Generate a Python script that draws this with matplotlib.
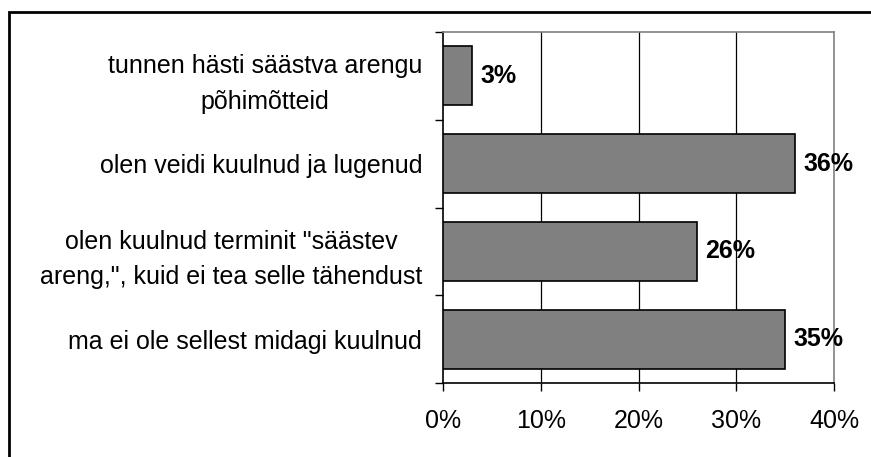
import matplotlib
matplotlib.use("Agg")
import matplotlib.pyplot as plt
from matplotlib.patches import Rectangle
from matplotlib.ticker import FixedLocator

plt.rcParams['font.family'] = ['Liberation Sans', 'DejaVu Sans']

categories = [
    "tunnen hästi säästva arengu\npõhimõtteid",
    "olen veidi kuulnud ja lugenud",
    "olen kuulnud terminit \"säästev\nareng,\", kuid ei tea selle tähendust",
    "ma ei ole sellest midagi kuulnud",
]
values = [3, 36, 26, 35]
x_ticks = [0, 10, 20, 30, 40]
x_tick_labels = ["0%", "10%", "20%", "30%", "40%"]

W, H = 871, 457
fig = plt.figure(figsize=(W / 100, H / 100), dpi=100)
ax = fig.add_axes([443 / W, 74 / H, 391 / W, 351 / H])

n = len(categories)
ypos = list(range(n))
ax.barh(ypos, values, height=0.67, color="#808080", edgecolor="black",
        linewidth=1.2, zorder=3)

ax.set_xlim(0, 40)
ax.set_ylim(n - 0.5, -0.5)

# value labels
for y, v in zip(ypos, values):
    ax.annotate(f"{v}%", xy=(v, y), xytext=(6, 0), textcoords="offset points",
                ha="left", va="center", fontsize=18, fontweight="bold", zorder=4)

# vertical grid
for gx in x_ticks[1:-1]:
    ax.axvline(gx, color="black", linewidth=0.9, zorder=1)

ax.set_xticks(x_ticks)
ax.set_xticklabels(x_tick_labels, fontsize=18)
ax.tick_params(axis="x", direction="out", length=6, width=1, pad=13)

ax.set_yticks(ypos)
ax.set_yticklabels(categories, fontsize=18, multialignment="center",
                   linespacing=1.6)
ax.tick_params(axis="y", which="major", length=0, pad=15)
ax.yaxis.set_minor_locator(FixedLocator([i + 0.5 for i in range(-1, n)]))
ax.tick_params(axis="y", which="minor", direction="out", length=6, width=1)

for s in ["left", "bottom"]:
    ax.spines[s].set_color("black")
    ax.spines[s].set_linewidth(1.2)
for s in ["top", "right"]:
    ax.spines[s].set_color("#808080")
    ax.spines[s].set_linewidth(1.2)

# outer chart frame (its right and bottom edges lie past the canvas)
frame_top = 1 - 12 / H
fig.add_artist(Rectangle((9 / W, -0.2), 1.2, frame_top + 0.2,
                         transform=fig.transFigure, fill=False,
                         edgecolor="black", linewidth=2))

fig.savefig("out.png", dpi=100)
